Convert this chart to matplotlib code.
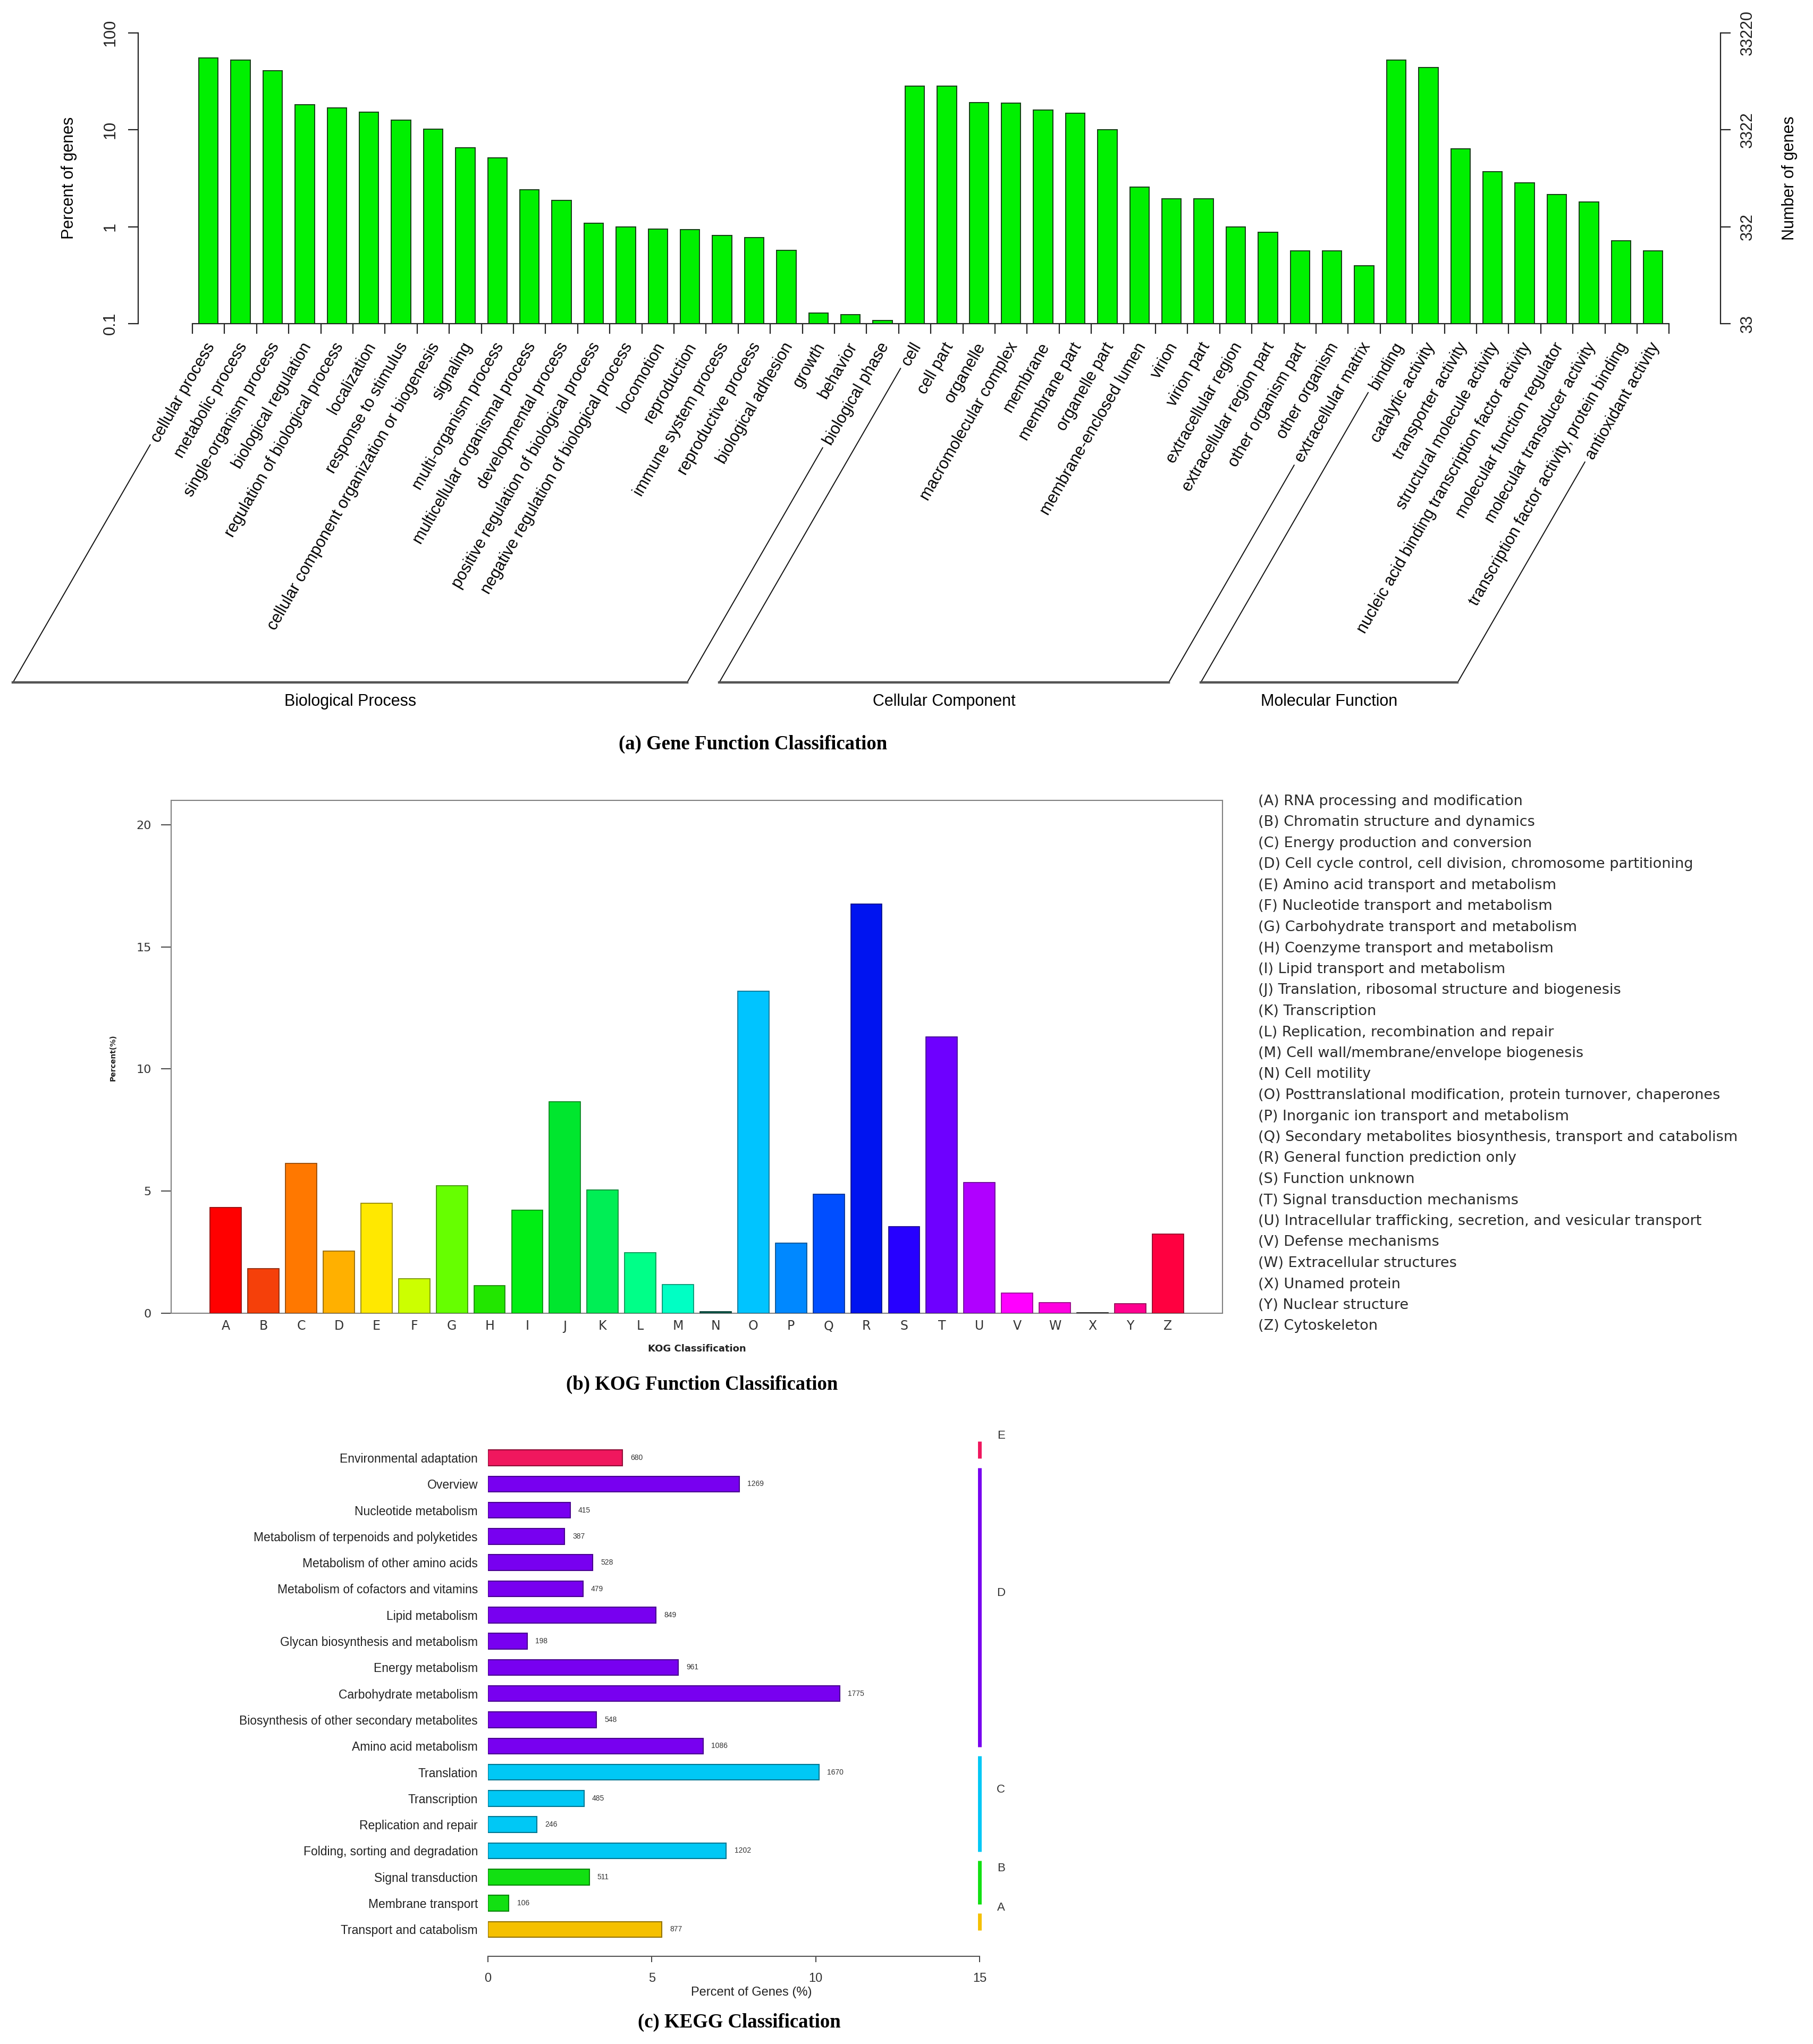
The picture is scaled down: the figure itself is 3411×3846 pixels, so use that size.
import numpy as np
import matplotlib
matplotlib.use("Agg")
import matplotlib.pyplot as plt
import matplotlib.colors as mcolors
from matplotlib.font_manager import FontProperties
from matplotlib.lines import Line2D
from matplotlib.ticker import NullLocator

W, H = 3412, 3846
plt.rcParams['font.family'] = ['Liberation Sans', 'DejaVu Sans']

# ---------------- (a) GO classification ----------------
go_terms = [
    "cellular process", "metabolic process", "single-organism process",
    "biological regulation", "regulation of biological process", "localization",
    "response to stimulus", "cellular component organization or biogenesis",
    "signaling", "multi-organism process", "multicellular organismal process",
    "developmental process", "positive regulation of biological process",
    "negative regulation of biological process", "locomotion", "reproduction",
    "immune system process", "reproductive process", "biological adhesion",
    "growth", "behavior", "biological phase",
    "cell", "cell part", "organelle", "macromolecular complex", "membrane",
    "membrane part", "organelle part", "membrane-enclosed lumen", "virion",
    "virion part", "extracellular region", "extracellular region part",
    "other organism part", "other organism", "extracellular matrix",
    "binding", "catalytic activity", "transporter activity",
    "structural molecule activity",
    "nucleic acid binding transcription factor activity",
    "molecular function regulator", "molecular transducer activity",
    "transcription factor activity, protein binding", "antioxidant activity",
]
go_percent = [
    54.7, 52.4, 40.8, 18.1, 16.7, 15.2, 12.5, 10.1, 6.5, 5.1, 2.39, 1.88,
    1.09, 0.995, 0.946, 0.93, 0.817, 0.772, 0.567, 0.129, 0.124, 0.108,
    28.2, 28.2, 19.1, 18.7, 16.0, 14.8, 10.05, 2.56, 1.94, 1.94, 1.0, 0.874,
    0.563, 0.563, 0.397,
    52.6, 43.9, 6.37, 3.69, 2.83, 2.14, 1.79, 0.713, 0.563,
]
go_groups = ["Biological Process", "Cellular Component", "Molecular Function"]
go_group_sizes = [22, 15, 9]
go_left_ticks = [0.1, 1, 10, 100]
go_left_labels = ["0.1", "1", "10", "100"]
go_right_labels = ["33", "332", "3322", "33220"]

# ---------------- (b) KOG classification ----------------
kog_codes = list("ABCDEFGHIJKLMNOPQRSTUVWXYZ")
kog_percent = [4.33, 1.83, 6.13, 2.55, 4.5, 1.42, 5.22, 1.13, 4.22, 8.67,
               5.05, 2.47, 1.17, 0.07, 13.18, 2.88, 4.87, 16.75, 3.55, 11.32,
               5.35, 0.83, 0.43, 0.03, 0.4, 3.25]
kog_names = [
    "RNA processing and modification",
    "Chromatin structure and dynamics",
    "Energy production and conversion",
    "Cell cycle control, cell division, chromosome partitioning",
    "Amino acid transport and metabolism",
    "Nucleotide transport and metabolism",
    "Carbohydrate transport and metabolism",
    "Coenzyme transport and metabolism",
    "Lipid transport and metabolism",
    "Translation, ribosomal structure and biogenesis",
    "Transcription",
    "Replication, recombination and repair",
    "Cell wall/membrane/envelope biogenesis",
    "Cell motility",
    "Posttranslational modification, protein turnover, chaperones",
    "Inorganic ion transport and metabolism",
    "Secondary metabolites biosynthesis, transport and catabolism",
    "General function prediction only",
    "Function unknown",
    "Signal transduction mechanisms",
    "Intracellular trafficking, secretion, and vesicular transport",
    "Defense mechanisms",
    "Extracellular structures",
    "Unamed protein",
    "Nuclear structure",
    "Cytoskeleton",
]
kog_colors = ['#ff0000', '#f5400a', '#ff7800', '#ffb000', '#ffe800', '#ccff00',
              '#66ff00', '#22e600', '#00ee14', '#00e62e', '#00ee55', '#00ff88',
              '#00ffc4', '#006655', '#00c4ff', '#0088ff', '#004eff', '#0014f0',
              '#2700ff', '#6e00ff', '#b000ff', '#ff00ff', '#ff00e0', '#333333',
              '#ff0090', '#ff0040']

# ---------------- (c) KEGG classification ----------------
kegg_terms = [
    "Environmental adaptation", "Overview", "Nucleotide metabolism",
    "Metabolism of terpenoids and polyketides", "Metabolism of other amino acids",
    "Metabolism of cofactors and vitamins", "Lipid metabolism",
    "Glycan biosynthesis and metabolism", "Energy metabolism",
    "Carbohydrate metabolism", "Biosynthesis of other secondary metabolites",
    "Amino acid metabolism", "Translation", "Transcription",
    "Replication and repair", "Folding, sorting and degradation",
    "Signal transduction", "Membrane transport", "Transport and catabolism",
]
kegg_counts = [680, 1269, 415, 387, 528, 479, 849, 198, 961, 1775, 548, 1086,
               1670, 485, 246, 1202, 511, 106, 877]
kegg_percent = [4.11, 7.67, 2.51, 2.34, 3.19, 2.90, 5.13, 1.20, 5.81, 10.73,
                3.31, 6.57, 10.10, 2.93, 1.49, 7.27, 3.09, 0.64, 5.30]
kegg_class = ["E", "D", "D", "D", "D", "D", "D", "D", "D", "D", "D", "D",
              "C", "C", "C", "C", "B", "B", "A"]
kegg_class_colors = {"E": "#f0175e", "D": "#7800f0", "C": "#00c8f5",
                     "B": "#12e012", "A": "#f5c000"}


def box(x0, y0, x1, y1):
    # pixel box (top-left origin) -> figure fraction rect
    return [x0 / W, 1 - y1 / H, (x1 - x0) / W, (y1 - y0) / H]


def darker(c, f=0.55):
    r, g, b = mcolors.to_rgb(c)
    return (r * f, g * f, b * f)


def ftext(x, y, s, **kw):
    return fig.text(x / W, 1 - y / H, s, **kw)


fig = plt.figure(figsize=(W / 100, H / 100), dpi=100)
fig.patch.set_facecolor('white')

# ======================= panel (a) =======================
n_go = len(go_terms)
pitch = 60.4
x0_px = 362
ax = fig.add_axes(box(260, 61.6, 3237, 609))
xs = np.arange(n_go) + 0.5
ax.bar(xs, np.array(go_percent) - 0.1, bottom=0.1, width=0.6,
       color='#00f000', edgecolor='#153d15', linewidth=1.4, zorder=3)
ax.set_yscale('log')
ax.set_ylim(0.1, 100)
ax.set_xlim((260 - x0_px) / pitch, (3237 - x0_px) / pitch)
ax.spines['top'].set_visible(False)
ax.spines['right'].set_visible(False)
for s in ['left', 'bottom']:
    ax.spines[s].set_linewidth(1.6)
    ax.spines[s].set_color('#222222')
ax.spines['left'].set_bounds(0.1, 100)
ax.spines['bottom'].set_bounds(0, n_go)
ax.yaxis.set_minor_locator(NullLocator())
ax.set_yticks(go_left_ticks)
ax.set_yticklabels(go_left_labels, rotation=90, va='center')
ax.set_xticks(np.arange(n_go + 1))
ax.set_xticklabels([])
ax.tick_params(axis='y', length=14, width=1.6, pad=13, labelsize=22,
               colors='#222222')
ax.tick_params(axis='x', length=14, width=1.6, colors='#222222')

ax2 = ax.twinx()
ax2.set_yscale('log')
ax2.set_ylim(0.1, 100)
for s in ['left', 'top', 'bottom']:
    ax2.spines[s].set_visible(False)
ax2.spines['right'].set_bounds(0.1, 100)
ax2.spines['right'].set_linewidth(1.6)
ax2.spines['right'].set_color('#222222')
ax2.yaxis.set_minor_locator(NullLocator())
ax2.set_yticks(go_left_ticks)
ax2.set_yticklabels(go_right_labels, rotation=90, va='center')
ax2.tick_params(axis='y', length=14, width=1.6, pad=12, labelsize=22,
                colors='#222222')

ftext(130, 335, "Percent of genes", rotation=90, ha='center', va='center',
      fontsize=22)
ftext(3367, 335, "Number of genes", rotation=90, ha='center', va='center',
      fontsize=22)

label_font = FontProperties(family=['Liberation Sans', 'DejaVu Sans'], size=22)
for xi, term in zip(xs, go_terms):
    ax.annotate(term, xy=(xi, 0.1), xycoords='data', xytext=(4, -27.4),
                textcoords='offset points', rotation=60, ha='right',
                va='center', rotation_mode='anchor', fontproperties=label_font)

# group brackets along the label direction
fig.canvas.draw()
renderer = fig.canvas.get_renderer()
ang = np.deg2rad(60)
base_y = 1284
anchor_y = 647
start = 0
for gname, gsize in zip(go_groups, go_group_sizes):
    ends = []
    for idx in (start, start + gsize - 1):
        cx = ax.transData.transform((xs[idx], 0.1))[0]
        w, h, d = renderer.get_text_width_height_descent(
            go_terms[idx], label_font, ismath=False)
        sx = cx - (w + 8) * np.cos(ang)
        sy = anchor_y + (w + 8) * np.sin(ang)
        t = (base_y - anchor_y) / np.sin(ang)
        ex = cx - t * np.cos(ang)
        fig.add_artist(Line2D([sx / W, ex / W], [1 - sy / H, 1 - base_y / H],
                              transform=fig.transFigure, color='#111111',
                              linewidth=1.4))
        ends.append(ex)
    fig.add_artist(Line2D([ends[0] / W, ends[1] / W],
                          [1 - base_y / H, 1 - base_y / H],
                          transform=fig.transFigure, color='#555555',
                          linewidth=3.2))
    ftext((ends[0] + ends[1]) / 2, 1320, gname, ha='center', va='center',
          fontsize=22)
    start += gsize

ftext(1417, 1400, "(a) Gene Function Classification", ha='center',
      va='center', fontsize=26.5, family='Liberation Serif', weight='bold')

# ======================= panel (b) =======================
axb = fig.add_axes(box(322, 1506, 2300, 2471))
kx = np.arange(len(kog_codes))
axb.bar(kx, kog_percent, width=0.83, color=kog_colors,
        edgecolor=[darker(c) for c in kog_colors], linewidth=1.2, zorder=3)
axb.set_xlim(-1.45, len(kog_codes) - 1 + 1.45)
axb.set_ylim(0, 21)
for s in axb.spines.values():
    s.set_color('#808080')
    s.set_linewidth(1.5)
axb.set_yticks([0, 5, 10, 15, 20])
axb.set_xticks(kx)
axb.set_xticklabels(kog_codes)
for lab in axb.get_xticklabels() + axb.get_yticklabels():
    lab.set_family('DejaVu Sans')
axb.tick_params(axis='y', length=13.7, width=1.3, pad=13, labelsize=16,
                colors='#333333')
axb.tick_params(axis='x', length=0, pad=9, labelsize=17, colors='#333333')
ftext(1311, 2538, "KOG Classification", ha='center', va='center',
      fontsize=13, weight='bold', family='DejaVu Sans', color='#222222')
ftext(213, 1990, "Percent(%)", ha='center', va='center', rotation=90,
      fontsize=10, weight='bold', family='DejaVu Sans', color='#222222')
for k, (code, name) in enumerate(zip(kog_codes, kog_names)):
    ftext(2367, 1508 + k * 39.5, "(%s) %s" % (code, name), ha='left',
          va='center', fontsize=19.5, family='DejaVu Sans', color='#2a2a2a')
ftext(1321, 2605, "(b) KOG Function Classification", ha='center',
      va='center', fontsize=26.5, family='Liberation Serif', weight='bold')

# ======================= panel (c) =======================
kp = 49.3
k_top = 2743
axc = fig.add_axes(box(918, k_top - 0.9 * kp, 1843, 3681))
ky = np.arange(len(kegg_terms))
kcols = [kegg_class_colors[c] for c in kegg_class]
axc.barh(ky, kegg_percent, height=0.6, color=kcols,
         edgecolor=[darker(c, 0.6) for c in kcols], linewidth=1.5, zorder=3)
axc.set_xlim(0, 15)
axc.set_ylim((3681 - k_top) / kp, -0.9)
for s in ['left', 'right', 'top']:
    axc.spines[s].set_visible(False)
axc.spines['bottom'].set_bounds(0, 15)
axc.spines['bottom'].set_color('#555555')
axc.spines['bottom'].set_linewidth(1.5)
axc.set_xticks([0, 5, 10, 15])
axc.set_yticks(ky)
axc.set_yticklabels(kegg_terms)
axc.tick_params(axis='x', length=8, width=1.3, pad=14, labelsize=17,
                colors='#333333')
axc.tick_params(axis='y', length=0, pad=13.7, labelsize=16.5, colors='#222222')
for yi, v, cnt in zip(ky, kegg_percent, kegg_counts):
    axc.annotate(str(cnt), xy=(v, yi), xytext=(11, 0),
                 textcoords='offset points', ha='left', va='center',
                 fontsize=10, color='#333333')

# class side bars
seen = []
for c in kegg_class:
    if c not in seen:
        seen.append(c)
for c in seen:
    idx = [i for i, cc in enumerate(kegg_class) if cc == c]
    y0, y1 = idx[0] - 0.62, idx[-1] + 0.03
    axc.plot([15, 15], [y0, y1], color=kegg_class_colors[c], linewidth=5,
             solid_capstyle='butt', clip_on=False, zorder=4)
    axc.text(15.65, (y0 + y1) / 2 - 0.54, c, ha='center', va='center',
             fontsize=16, color='#333333', clip_on=False)

ftext(1414, 3749, "Percent of Genes (%)", ha='center', va='center',
      fontsize=17, color='#222222')
ftext(1391, 3805, "(c) KEGG Classification", ha='center', va='center',
      fontsize=26.5, family='Liberation Serif', weight='bold')

fig.savefig("out.png", dpi=100, facecolor='white')
